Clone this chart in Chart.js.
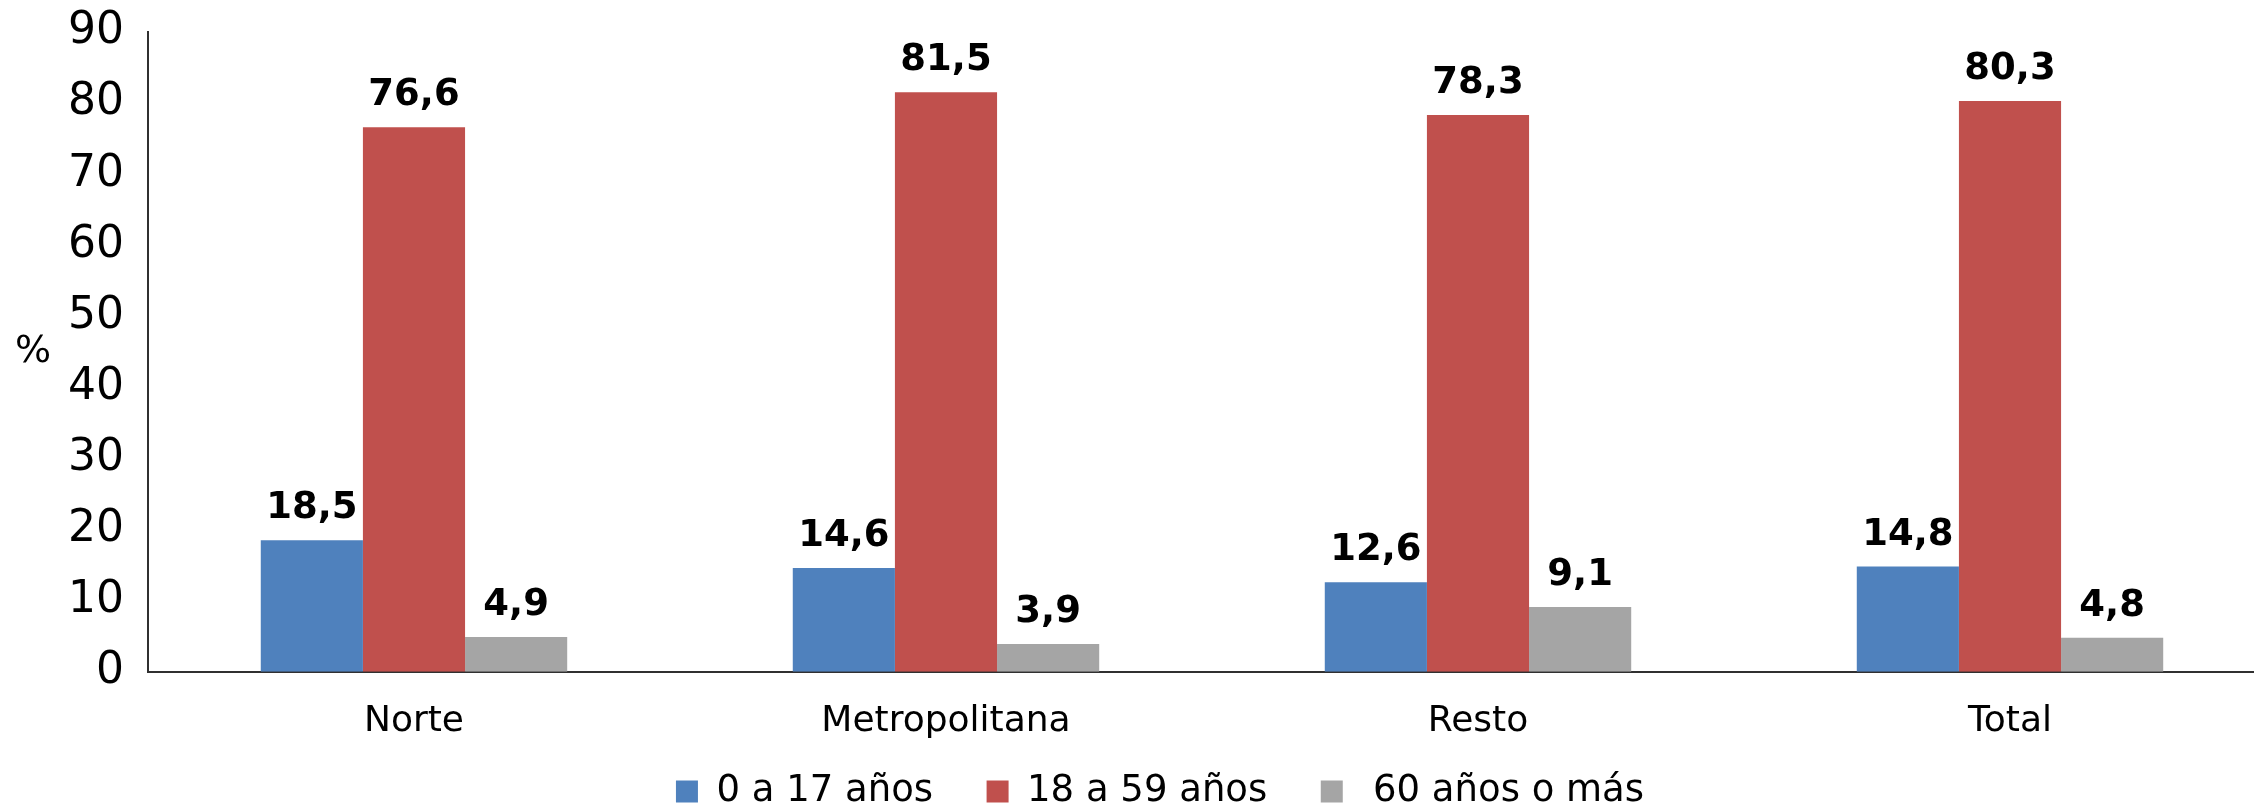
<!DOCTYPE html>
<html>
<head>
<meta charset="utf-8">
<script src="https://cdn.jsdelivr.net/npm/chart.js@4"></script>
<style>
    html, body { margin: 0; padding: 0; background: #ffffff; overflow: hidden; }
    #wrap { width: 2280px; height: 807px; position: relative; }
</style>
</head>
<body>
<div id="wrap"><canvas id="chart"></canvas></div>
<script>
// Data
var categories = ['Norte', 'Metropolitana', 'Resto', 'Total'];
var seriesNames = ['0 a 17 años', '18 a 59 años', '60 años o más'];
var young = [18.5, 14.6, 12.6, 14.8];
var adults = [76.6, 81.5, 78.3, 80.3];
var seniors = [4.9, 3.9, 9.1, 4.8];
var yTicks = [0, 10, 20, 30, 40, 50, 60, 70, 80, 90];

var colors = ['#4F81BD', '#C0504D', '#A5A5A5'];
var fontFamily = '"DejaVu Sans", Verdana, sans-serif';

function fmt(v) {
    return v.toFixed(1).replace('.', ',');
}

// Bold value labels above each bar, plus the horizontal "%" axis title
var valueLabels = {
    id: 'valueLabels',
    afterDatasetsDraw: function(chart) {
        var ctx = chart.ctx;
        ctx.save();
        ctx.fillStyle = '#000000';
        ctx.font = 'bold 37px ' + fontFamily;
        ctx.textAlign = 'center';
        ctx.textBaseline = 'alphabetic';
        chart.data.datasets.forEach(function(ds, i) {
            var meta = chart.getDatasetMeta(i);
            meta.data.forEach(function(bar, j) {
                ctx.fillText(fmt(ds.data[j]), bar.x, bar.y - 22);
            });
        });
        var area = chart.chartArea;
        ctx.font = '38px ' + fontFamily;
        ctx.textBaseline = 'middle';
        ctx.fillText('%', 33, (area.top + area.bottom) / 2);
        ctx.restore();
    }
};

var ctx = document.getElementById('chart').getContext('2d');
var chart = new Chart(ctx, {
    type: 'bar',
    data: {
        labels: categories,
        datasets: [
            { label: seriesNames[0], data: young, backgroundColor: colors[0] },
            { label: seriesNames[1], data: adults, backgroundColor: colors[1] },
            { label: seriesNames[2], data: seniors, backgroundColor: colors[2] }
        ]
    },
    options: {
        responsive: true,
        maintainAspectRatio: false,
        animation: false,
        datasets: {
            bar: {
                categoryPercentage: 0.576,
                barPercentage: 1.0
            }
        },
        layout: {
            padding: { left: 44, right: 4, top: 0, bottom: -13 }
        },
        scales: {
            x: {
                grid: { display: false, drawTicks: false },
                border: { display: true, color: '#303030', width: 2 },
                ticks: {
                    color: '#000000',
                    padding: 28,
                    font: { family: fontFamily, size: 36 }
                },
                afterFit: function(scale) {
                    scale.height -= 28;
                }
            },
            y: {
                min: 0,
                max: 90,
                afterBuildTicks: function(scale) {
                    scale.ticks = yTicks.map(function(v) { return { value: v }; });
                },
                grid: { display: false, drawTicks: false },
                border: { display: true, color: '#303030', width: 2 },
                ticks: {
                    color: '#000000',
                    padding: 24,
                    font: { family: fontFamily, size: 44, lineHeight: 0.36 }
                }
            }
        },
        plugins: {
            legend: {
                position: 'bottom',
                labels: {
                    color: '#000000',
                    boxWidth: 22,
                    boxHeight: 22,
                    padding: 30,
                    font: { family: fontFamily, size: 37 },
                    generateLabels: function(chart) {
                        var items = Chart.defaults.plugins.legend.labels.generateLabels(chart);
                        items.forEach(function(item, i) {
                            if (i < items.length - 1) item.text = item.text + '  ';
                            else item.text = ' ' + item.text;
                        });
                        return items;
                    }
                }
            },
            tooltip: { enabled: false }
        }
    },
    plugins: [valueLabels]
});
</script>
</body>
</html>
